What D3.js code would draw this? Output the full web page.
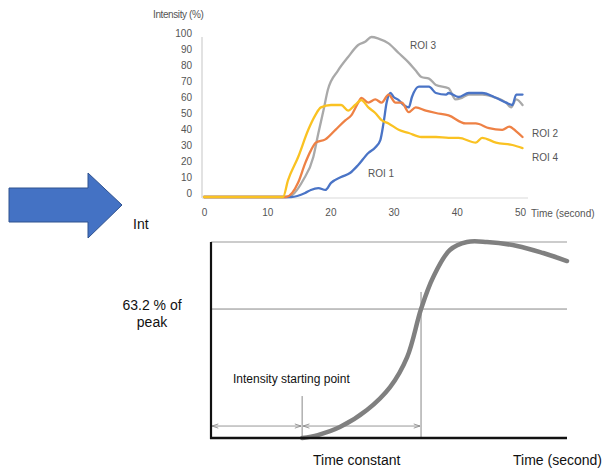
<!DOCTYPE html>
<html>
<head>
<meta charset="utf-8">
<script src="https://cdn.jsdelivr.net/npm/d3@7"></script>
<style>
  body { margin: 0; background: #fff; }
  text { font-family: "Liberation Sans", Arial, sans-serif; }
</style>
</head>
<body>
<svg width="608" height="468"></svg>
<script>
// top chart: intensity curves, [time (s), intensity (%)]
var roi1 = [[0,0],[13.8,0],[16,2.5],[16.9,4.4],[18.1,5.6],[19.2,4.4],[20.1,8.8],[21.7,12.5],[23.1,15],[24.4,20],[26,27.5],[27.1,31],[27.9,35.6],[28.4,46],[28.9,59],[29.5,65],[30,62.5],[30.8,60.6],[31.6,57.5],[32.4,56],[32.9,62.5],[34,69],[35.6,69],[36.7,65],[38.3,64],[38.7,65],[40.3,62.5],[41.9,65],[44,65],[46.2,62],[47.8,59],[48.8,57.5],[49.4,64],[50.4,64]];
var roi2 = [[0,0],[13,0],[14.9,9],[16,21],[16.9,29],[17.7,34],[19.2,36],[20.8,42],[22.4,48],[23.3,51],[24.4,59],[24.9,62],[26,59],[27.1,61],[28.1,59],[29.2,64],[30.3,59],[31.3,59],[32.4,53],[33.5,56],[35.1,54],[36.7,52.5],[38.7,51],[41.4,46],[43,46],[45.1,43],[47.2,42],[48.3,44],[49.4,41],[50.4,37.5]];
var roi3 = [[0,0],[13.3,0],[15.7,10.6],[17.3,25],[18.1,40],[18.9,54],[19.6,67],[21.2,79],[22.8,87.5],[24.4,95],[25.5,97],[26.5,100],[27.6,99],[29.2,96],[30.8,90],[32.4,84],[33.5,79],[34.4,75],[35.6,74],[36.7,70],[38.7,68],[39.8,61],[40.8,62],[41.9,64],[44,64],[46.2,62],[47.8,59],[48.6,56],[49.4,61],[50.4,57.5]];
var roi4 = [[0,0],[12.5,0],[13.3,10.6],[14.9,25],[16.5,42],[17.6,51],[18.5,56],[20.1,57.5],[21.7,57.5],[22.8,54],[23.9,57.5],[24.9,60.6],[26,56],[27.1,52.5],[28.1,48],[29.2,46],[30.8,42],[32.4,40],[34.4,37.5],[36.7,37.5],[38.7,37],[40.3,37],[43,34],[44,37],[46.2,34],[48.8,32.5],[50.4,30.6]];

var yTicks = [0,10,20,30,40,50,60,70,80,90,100];
var xTicks = [0,10,20,30,40,50];

// bottom schematic: [time (arbitrary), intensity (% of peak)]
var schematicCurve = [[25.6,0],[30,1.5],[36.2,5.6],[43.8,14.3],[50.3,26],[55.1,41.3],[59,65.8],[62.4,82],[67.1,95.9],[71.9,100],[77.5,100],[86,98],[93.3,94.4],[100,90.3]];
var startTime = 25.6;      // intensity starting point
var constantTime = 59;     // time constant
var levelValue = 65.8;     // "63.2 % of peak" line as drawn

var svg = d3.select("svg");

/* ---------- blue arrow + "Int" ---------- */
svg.append("polygon")
    .attr("points", "9,188 88,188 88,173 122,205 88,238 88,222 9,222")
    .attr("fill", "#4472c4")
    .attr("stroke", "#2f528f")
    .attr("stroke-width", 1);

svg.append("text").attr("x", 133).attr("y", 229)
    .style("font-size", "14px").attr("fill", "#111").text("Int");

/* ---------- top chart ---------- */
var x = d3.scaleLinear().domain([0, 50]).range([204, 520]);
var y = d3.scaleLinear().domain([0, 100]).range([197, 37]);

var topG = svg.append("g");

// axis lines (light)
topG.append("line")
    .attr("x1", x(0) - 2).attr("x2", x(0) - 2)
    .attr("y1", y(100)).attr("y2", y(0) + 1)
    .attr("stroke", "#d9d9d9").attr("stroke-width", 1.5);
topG.append("line")
    .attr("x1", x(0) - 2).attr("x2", x(50) + 8)
    .attr("y1", y(0) + 1).attr("y2", y(0) + 1)
    .attr("stroke", "#e6e6e6").attr("stroke-width", 1.5);

var yAxis = topG.append("g")
    .attr("transform", "translate(" + (x(0) - 2) + ",0)")
    .call(d3.axisLeft(y).tickValues(yTicks).tickSize(0).tickPadding(10));
yAxis.select(".domain").remove();
yAxis.selectAll("text").style("font-size", "10px").attr("fill", "#555")
    .style("font-family", "'Liberation Sans', Arial, sans-serif")
    .attr("dy", "-0.05em");

var xAxis = topG.append("g")
    .attr("transform", "translate(0," + y(0) + ")")
    .call(d3.axisBottom(x).tickValues(xTicks).tickSize(0).tickPadding(12));
xAxis.select(".domain").remove();
xAxis.selectAll("text").style("font-size", "10px").attr("fill", "#555")
    .style("font-family", "'Liberation Sans', Arial, sans-serif");

var line = d3.line()
    .x(function(d) { return x(d[0]); })
    .y(function(d) { return y(d[1]); })
    .curve(d3.curveMonotoneX);

var series = [
  { name: "ROI 3", data: roi3, color: "#a9a9a9" },
  { name: "ROI 1", data: roi1, color: "#4a74c6" },
  { name: "ROI 2", data: roi2, color: "#ee8145" },
  { name: "ROI 4", data: roi4, color: "#fac222" }
];

topG.selectAll("path.roi")
  .data(series)
  .enter().append("path")
    .attr("class", "roi")
    .attr("d", function(d) { return line(d.data); })
    .attr("fill", "none")
    .attr("stroke", function(d) { return d.color; })
    .attr("stroke-width", 2.3)
    .attr("stroke-linejoin", "round")
    .attr("stroke-linecap", "round");

var roiLabels = [
  { text: "ROI 3", x: 410, y: 49 },
  { text: "ROI 2", x: 532, y: 137 },
  { text: "ROI 4", x: 532, y: 161 },
  { text: "ROI 1", x: 368, y: 177 }
];
topG.selectAll("text.roilab")
  .data(roiLabels)
  .enter().append("text")
    .attr("class", "roilab")
    .attr("x", function(d) { return d.x; })
    .attr("y", function(d) { return d.y; })
    .style("font-size", "10px")
    .attr("fill", "#555")
    .text(function(d) { return d.text; });

topG.append("text").attr("x", 153).attr("y", 18)
    .style("font-size", "10px").style("letter-spacing", "-0.4px")
    .attr("fill", "#555").text("Intensity (%)");
topG.append("text").attr("x", 531).attr("y", 217)
    .style("font-size", "10px").attr("fill", "#555").text("Time (second)");

/* ---------- bottom schematic ---------- */
var bx = d3.scaleLinear().domain([0, 100]).range([211, 567]);
var by = d3.scaleLinear().domain([0, 100]).range([438, 242]);

var bot = svg.append("g");

var defs = svg.append("defs");
defs.append("marker")
    .attr("id", "ah")
    .attr("viewBox", "0 0 10 10")
    .attr("refX", 10).attr("refY", 5)
    .attr("markerWidth", 7).attr("markerHeight", 7)
    .attr("orient", "auto-start-reverse")
  .append("path")
    .attr("d", "M1,2 L10,5 L1,8")
    .attr("fill", "none")
    .attr("stroke", "#888")
    .attr("stroke-width", 1.2);

// peak line and 63.2% line
bot.append("line")
    .attr("x1", bx(0)).attr("x2", bx(100))
    .attr("y1", by(100)).attr("y2", by(100))
    .attr("stroke", "#999").attr("stroke-width", 1);
bot.append("line")
    .attr("x1", bx(0)).attr("x2", bx(100))
    .attr("y1", by(levelValue)).attr("y2", by(levelValue))
    .attr("stroke", "#888").attr("stroke-width", 1);

// verticals
bot.append("line")
    .attr("x1", bx(constantTime)).attr("x2", bx(constantTime))
    .attr("y1", by(74.5)).attr("y2", by(0))
    .attr("stroke", "#888").attr("stroke-width", 1);
bot.append("line")
    .attr("x1", bx(startTime)).attr("x2", bx(startTime))
    .attr("y1", by(21.4)).attr("y2", by(0))
    .attr("stroke", "#888").attr("stroke-width", 1);

// double arrows
var arrowSpans = [[0, startTime], [startTime, constantTime]];
bot.selectAll("line.span")
  .data(arrowSpans)
  .enter().append("line")
    .attr("class", "span")
    .attr("x1", function(d) { return bx(d[0]) + 1; })
    .attr("x2", function(d) { return bx(d[1]) - 1; })
    .attr("y1", by(6.1)).attr("y2", by(6.1))
    .attr("stroke", "#999").attr("stroke-width", 1)
    .attr("marker-start", "url(#ah)")
    .attr("marker-end", "url(#ah)");

// curve
bot.append("path")
    .attr("d", d3.line()
        .x(function(d) { return bx(d[0]); })
        .y(function(d) { return by(d[1]); })
        .curve(d3.curveCatmullRom)(schematicCurve))
    .attr("fill", "none")
    .attr("stroke", "#808080")
    .attr("stroke-width", 4.5)
    .attr("stroke-linecap", "round");

// axes
bot.append("line")
    .attr("x1", bx(0)).attr("x2", bx(0))
    .attr("y1", by(100)).attr("y2", by(0) + 1)
    .attr("stroke", "#111").attr("stroke-width", 2.2);
bot.append("line")
    .attr("x1", bx(0) - 1).attr("x2", bx(100))
    .attr("y1", by(0)).attr("y2", by(0))
    .attr("stroke", "#111").attr("stroke-width", 2.6);

// texts
bot.append("text").attr("x", 152).attr("y", 310)
    .attr("text-anchor", "middle").style("font-size", "14px")
    .attr("fill", "#111").text("63.2 % of");
bot.append("text").attr("x", 152).attr("y", 327)
    .attr("text-anchor", "middle").style("font-size", "14px")
    .attr("fill", "#111").text("peak");
bot.append("text").attr("x", 233).attr("y", 383)
    .style("font-size", "12px").attr("fill", "#111")
    .text("Intensity starting point");
bot.append("text").attr("x", 313).attr("y", 465)
    .style("font-size", "14px").attr("fill", "#111").text("Time constant");
bot.append("text").attr("x", 513).attr("y", 465)
    .style("font-size", "14px").attr("fill", "#111").text("Time (second)");
</script>
</body>
</html>
